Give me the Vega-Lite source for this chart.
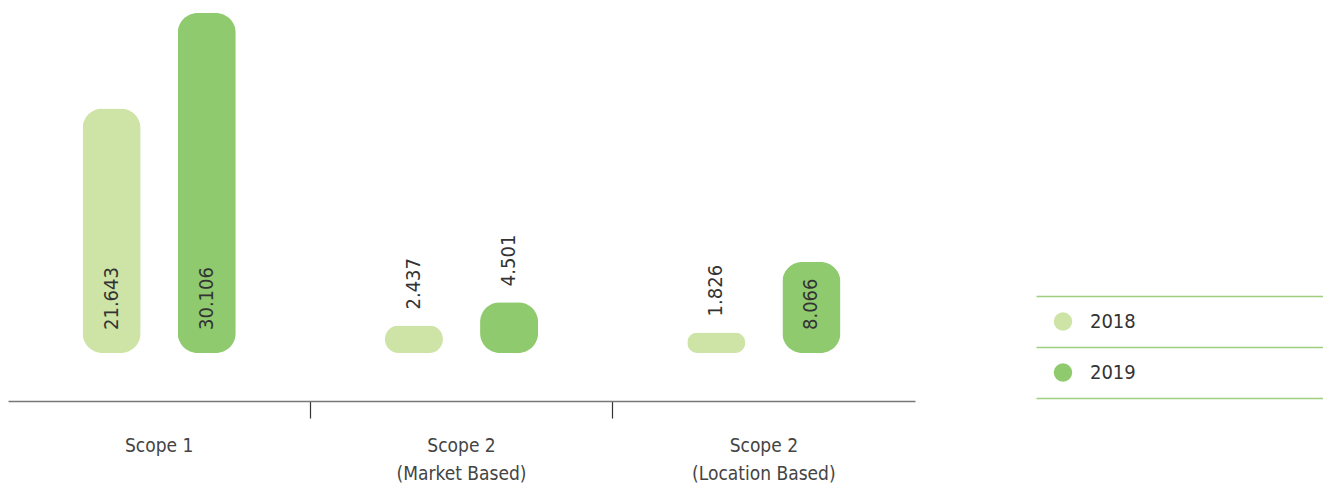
{
  "$schema": "https://vega.github.io/schema/vega-lite/v6.json",
  "padding": {"left": 8, "top": 13, "right": 0, "bottom": 0},
  "background": "white",
  "config": {
    "view": {"stroke": null},
    "font": "Liberation Sans Narrow, DejaVu Sans Condensed, Roboto, sans-serif",
    "text": {"font": "Liberation Sans Narrow, DejaVu Sans Condensed, Roboto, sans-serif"}
  },
  "datasets": {
    "emissions": [
      {"category": "Scope 1", "year": "2018", "value": 21.643},
      {"category": "Scope 1", "year": "2019", "value": 30.106},
      {"category": "Scope 2\n(Market Based)", "year": "2018", "value": 2.437},
      {"category": "Scope 2\n(Market Based)", "year": "2019", "value": 4.501},
      {"category": "Scope 2\n(Location Based)", "year": "2018", "value": 1.826},
      {"category": "Scope 2\n(Location Based)", "year": "2019", "value": 8.066}
    ],
    "years": [
      {"year": "2018"},
      {"year": "2019"}
    ]
  },
  "spacing": 121,
  "hconcat": [
    {
      "width": 907,
      "height": 388,
      "data": {"name": "emissions"},
      "encoding": {
        "x": {
          "field": "category",
          "type": "nominal",
          "sort": null,
          "scale": {"paddingInner": 0, "paddingOuter": 0},
          "axis": {
            "title": null,
            "bandPosition": 0,
            "domainColor": "#777777",
            "domainWidth": 1.5,
            "tickColor": "#333333",
            "tickWidth": 1.2,
            "tickSize": 17,
            "tickOpacity": {"condition": {"test": "datum.value == 'Scope 1'", "value": 0}, "value": 1},
            "labelAngle": 0,
            "labelPadding": 18,
            "labelFontSize": 19,
            "labelColor": "#444444",
            "labelLineHeight": 28,
            "labelFont": "Liberation Sans Narrow, DejaVu Sans Condensed, Roboto, sans-serif",
            "labelExpr": "split(datum.label, '\\n')"
          }
        },
        "xOffset": {
          "field": "year",
          "type": "nominal",
          "scale": {"paddingInner": 0.39, "paddingOuter": 0.784}
        }
      },
      "layer": [
        {
          "mark": {"type": "bar", "cornerRadius": 20},
          "encoding": {
            "y": {
              "field": "value",
              "type": "quantitative",
              "scale": {"domain": [-4.25, 30.106], "nice": false, "zero": false},
              "axis": null
            },
            "color": {
              "field": "year",
              "type": "nominal",
              "scale": {"domain": ["2018", "2019"], "range": ["#cde4a6", "#8fca6e"]},
              "legend": null
            }
          }
        },
        {
          "transform": [{"filter": "datum.value > 5"}],
          "mark": {"type": "text", "angle": 270, "align": "left", "baseline": "middle", "dx": 23, "fontSize": 20, "color": "#333333"},
          "encoding": {
            "y": {"datum": 0, "type": "quantitative"},
            "text": {"field": "value", "type": "quantitative", "format": ".3f"}
          }
        },
        {
          "transform": [{"filter": "datum.value <= 5"}],
          "mark": {"type": "text", "angle": 270, "align": "left", "baseline": "middle", "dx": 16, "fontSize": 20, "color": "#333333"},
          "encoding": {
            "y": {"field": "value", "type": "quantitative"},
            "text": {"field": "value", "type": "quantitative", "format": ".3f"}
          }
        }
      ]
    },
    {
      "width": 287,
      "height": 385,
      "data": {"name": "years"},
      "encoding": {
        "y": {
          "field": "year",
          "type": "nominal",
          "scale": {"type": "band", "paddingInner": 0, "paddingOuter": 0, "range": [283, 385]},
          "axis": {
            "title": null,
            "bandPosition": 0,
            "grid": true,
            "gridColor": "#9fcf7e",
            "gridWidth": 1.5,
            "domain": false,
            "ticks": false,
            "labels": false
          }
        }
      },
      "layer": [
        {
          "mark": {"type": "point", "filled": true, "size": 340, "opacity": 1},
          "encoding": {
            "x": {
              "datum": 9.4,
              "type": "quantitative",
              "scale": {"domain": [0, 100], "nice": false},
              "axis": {
                "title": null,
                "domain": true,
                "domainColor": "#9fcf7e",
                "domainWidth": 1.5,
                "ticks": false,
                "labels": false,
                "grid": false
              }
            },
            "color": {
              "field": "year",
              "type": "nominal",
              "scale": {"domain": ["2018", "2019"], "range": ["#cde4a6", "#8fca6e"]},
              "legend": null
            }
          }
        },
        {
          "mark": {"type": "text", "align": "left", "baseline": "middle", "fontSize": 20, "color": "#333333"},
          "encoding": {
            "x": {"datum": 18.8, "type": "quantitative"},
            "text": {"field": "year", "type": "nominal"}
          }
        }
      ]
    }
  ]
}
